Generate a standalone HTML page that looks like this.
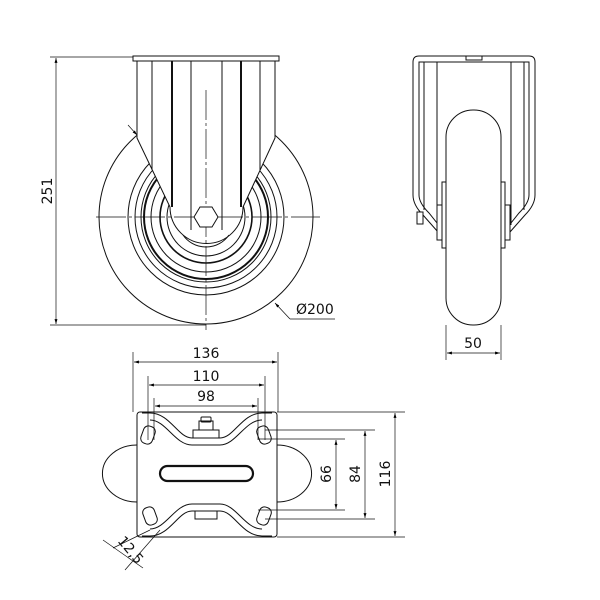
<!DOCTYPE html>
<html><head><style>html,body{margin:0;padding:0;background:#fff}svg{display:block}</style></head>
<body>
<svg width="600" height="600" viewBox="0 0 600 600" xmlns="http://www.w3.org/2000/svg" font-family="DejaVu Sans, Liberation Sans, sans-serif">
<defs>
<marker id="a" viewBox="0 0 10 10" refX="10" refY="5" markerWidth="7" markerHeight="7" orient="auto-start-reverse"><path d="M0,2 L10,5 L0,8 z" fill="#000"/></marker>
</defs>
<g fill="none" stroke="#111" stroke-width="1">
<!-- FRONT VIEW -->
<circle cx="206" cy="217" r="107"/>
<circle cx="206" cy="217" r="78"/>
<circle cx="206" cy="217" r="71"/>
<circle cx="206" cy="217" r="65"/>
<circle cx="206" cy="217" r="62" stroke-width="2"/>
<circle cx="206" cy="217" r="55"/>
<circle cx="206" cy="217" r="46" stroke-width="1.6"/>
<circle cx="206" cy="217" r="39"/>
<path d="M137,60 L137,138 L170,207 A36,36 0 0 0 243,207 L275,138 L275,60 Z" fill="#fff"/>
<rect x="133" y="56" width="146" height="5" fill="#fff"/>
<line x1="152" y1="61" x2="152" y2="170"/>
<line x1="172" y1="61" x2="172" y2="207" stroke-width="2"/>
<line x1="191" y1="61" x2="191" y2="230"/>
<line x1="222" y1="61" x2="222" y2="230"/>
<line x1="241" y1="61" x2="241" y2="207" stroke-width="2"/>
<line x1="260" y1="61" x2="260" y2="170"/>
<path d="M183,235 A28,28 0 0 0 229,235"/>
<line x1="96" y1="217" x2="320" y2="217" stroke-width="0.7" stroke-dasharray="30,3,3,3"/>
<line x1="206" y1="90" x2="206" y2="330" stroke-width="0.7" stroke-dasharray="30,3,3,3"/>
<polygon points="218,217 212,227 200,227 194,217 200,207 212,207" fill="#fff"/>
<!-- dims 251 -->
<line x1="50" y1="57" x2="133" y2="57" stroke-width="0.7"/>
<line x1="50" y1="325" x2="206" y2="325" stroke-width="0.7"/>
<line x1="56" y1="58" x2="56" y2="324" stroke-width="0.7" marker-start="url(#a)" marker-end="url(#a)"/>
<line x1="128" y1="125" x2="137" y2="135" stroke-width="0.7" marker-end="url(#a)"/>
<path d="M290,319 L275,303" stroke-width="0.7" marker-end="url(#a)"/>
<line x1="290" y1="319" x2="335" y2="319" stroke-width="0.7"/>

<!-- SIDE VIEW -->
<path d="M413,195 L413,62 Q413,56 419,56 L529,56 Q535,56 535,62 L535,195 Q535,205 525,215 L510,232"/>
<path d="M413,195 Q413,205 423,215 L438,232"/>
<path d="M419,195 L419,62 L529,62 L529,195 Q529,203 519,213 L507,228"/>
<path d="M419,195 Q419,203 429,213 L441,228"/>
<line x1="424" y1="62" x2="424" y2="210"/><line x1="524" y1="62" x2="524" y2="210"/>
<line x1="437" y1="62" x2="437" y2="225"/><line x1="511" y1="62" x2="511" y2="225"/>
<rect x="466" y="56" width="16" height="4"/>
<rect x="446" y="110" width="55" height="215" rx="27" fill="#fff"/>
<rect x="442" y="182" width="4" height="66" fill="#fff"/>
<rect x="501" y="182" width="4" height="66" fill="#fff"/>
<rect x="437" y="205" width="5" height="35" fill="#fff"/>
<rect x="505" y="205" width="5" height="35" fill="#fff"/>
<rect x="417" y="212" width="6" height="12" fill="#fff"/>
<line x1="446" y1="325" x2="446" y2="360" stroke-width="0.7"/>
<line x1="501" y1="325" x2="501" y2="360" stroke-width="0.7"/>
<line x1="447" y1="353" x2="500" y2="353" stroke-width="0.7" marker-start="url(#a)" marker-end="url(#a)"/>

<!-- BOTTOM VIEW -->
<path d="M137,445 A34,28 0 0 0 137,502"/>
<path d="M277,445 A34,28 0 0 1 277,502"/>
<rect x="137" y="412" width="140" height="125" rx="3" fill="#fff"/>
<path d="M142,413 L150,413 C170,413 178,438 192,438 L220,438 C234,438 242,413 262,413 L272,413"/>
<path d="M150,420 C166,420 175,445 192,445 L220,445 C236,445 245,420 262,420"/>
<path d="M142,536 L150,536 C170,536 178,511 192,511 L220,511 C234,511 242,536 262,536 L272,536"/>
<path d="M150,529 C166,529 175,504 192,504 L220,504 C236,504 245,529 262,529"/>
<rect x="193" y="430" width="26" height="8"/>
<path d="M199,430 L199,421 L213,421 L213,430"/>
<rect x="201" y="417" width="10" height="5" rx="1"/>
<rect x="195" y="511" width="22" height="8"/>
<g transform="rotate(20 148 435)"><rect x="142" y="426" width="12" height="18" rx="5"/></g>
<g transform="rotate(-20 264 435)"><rect x="258" y="426" width="12" height="18" rx="5"/></g>
<g transform="rotate(-20 150 516)"><rect x="144" y="507" width="12" height="18" rx="5"/></g>
<g transform="rotate(20 264 516)"><rect x="258" y="507" width="12" height="18" rx="5"/></g>
<rect x="160" y="466" width="93" height="15" rx="7.5" stroke-width="2.2"/>
<!-- dims -->
<line x1="133" y1="352" x2="133" y2="412" stroke-width="0.7"/>
<line x1="278" y1="352" x2="278" y2="412" stroke-width="0.7"/>
<line x1="134" y1="362" x2="277" y2="362" stroke-width="0.7" marker-start="url(#a)" marker-end="url(#a)"/>
<line x1="148" y1="376" x2="148" y2="440" stroke-width="0.7"/>
<line x1="265" y1="376" x2="265" y2="440" stroke-width="0.7"/>
<line x1="149" y1="385" x2="264" y2="385" stroke-width="0.7" marker-start="url(#a)" marker-end="url(#a)"/>
<line x1="154" y1="398" x2="154" y2="440" stroke-width="0.7"/>
<line x1="258" y1="398" x2="258" y2="440" stroke-width="0.7"/>
<line x1="155" y1="406" x2="257" y2="406" stroke-width="0.7" marker-start="url(#a)" marker-end="url(#a)"/>
<line x1="277" y1="412" x2="405" y2="412" stroke-width="0.7"/>
<line x1="277" y1="537" x2="405" y2="537" stroke-width="0.7"/>
<line x1="265" y1="430" x2="375" y2="430" stroke-width="0.7"/>
<line x1="265" y1="519" x2="375" y2="519" stroke-width="0.7"/>
<line x1="258" y1="439" x2="345" y2="439" stroke-width="0.7"/>
<line x1="258" y1="510" x2="345" y2="510" stroke-width="0.7"/>
<line x1="336" y1="440" x2="336" y2="509" stroke-width="0.7" marker-start="url(#a)" marker-end="url(#a)"/>
<line x1="365" y1="431" x2="365" y2="518" stroke-width="0.7" marker-start="url(#a)" marker-end="url(#a)"/>
<line x1="395" y1="413" x2="395" y2="536" stroke-width="0.7" marker-start="url(#a)" marker-end="url(#a)"/>
<line x1="113" y1="548" x2="150" y2="530" stroke-width="0.7"/>
<line x1="125" y1="570" x2="160" y2="530" stroke-width="0.7"/>
<line x1="103" y1="540" x2="143" y2="568" stroke-width="0.7"/>
</g>
<g fill="#111" font-size="14">
<text x="0" y="0" transform="translate(52,191) rotate(-90)" text-anchor="middle">251</text>
<text x="296" y="314">Ø200</text>
<text x="473" y="348" text-anchor="middle">50</text>
<text x="206" y="358" text-anchor="middle">136</text>
<text x="206" y="381" text-anchor="middle">110</text>
<text x="206" y="401" text-anchor="middle">98</text>
<text transform="translate(331,474) rotate(-90)" text-anchor="middle">66</text>
<text transform="translate(360,474) rotate(-90)" text-anchor="middle">84</text>
<text transform="translate(390,474) rotate(-90)" text-anchor="middle">116</text>
<text transform="translate(127,553) rotate(50)" text-anchor="middle">12,5</text>
</g>
</svg>
</body></html>
